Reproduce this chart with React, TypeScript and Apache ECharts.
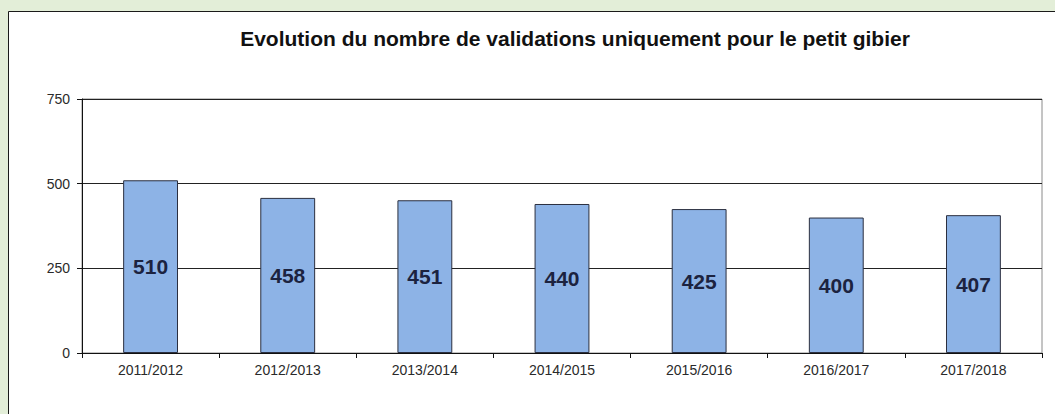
import React, { useEffect, useRef } from "react";
import * as echarts from "echarts";

const categories = ["2011/2012", "2012/2013", "2013/2014", "2014/2015", "2015/2016", "2016/2017", "2017/2018"];
const values = [510, 458, 451, 440, 425, 400, 407];
const yTicks = { min: 0, max: 750, interval: 250 };
const titleText = "Evolution du nombre de validations uniquement pour le petit gibier";

export default function App() {
  const ref = useRef<HTMLDivElement>(null);
  useEffect(() => {
    if (!ref.current) return;
    const chart = echarts.init(ref.current, null, { renderer: "svg" });
    chart.setOption({
      animation: false,
      backgroundColor: "#e3eed8",
      graphic: [
        {
          type: "rect",
          z: -10,
          shape: { x: 8.5, y: 11.5, width: 1100, height: 500 },
          style: { fill: "#ffffff", stroke: "#1a1a1a", lineWidth: 1 },
        },
        {
          type: "text",
          x: 575,
          y: 28,
          style: {
            text: titleText,
            fontFamily: "Liberation Sans, Arial, sans-serif",
            fontWeight: "bold",
            fontSize: 21,
            fill: "#111111",
            align: "center",
            verticalAlign: "top",
          },
        },
      ],
      grid: {
        left: 82,
        right: 13,
        top: 99,
        bottom: 61,
        show: true,
        borderColor: "#8a8a8a",
        borderWidth: 1,
        backgroundColor: "transparent",
      },
      xAxis: {
        type: "category",
        data: categories,
        axisLine: { show: true, lineStyle: { color: "#111", width: 1 } },
        axisTick: { show: true, alignWithLabel: false, length: 5, lineStyle: { color: "#111" } },
        axisLabel: {
          color: "#2a2a2a",
          fontSize: 14,
          fontFamily: "Liberation Sans, Arial, sans-serif",
          margin: 10,
        },
        splitLine: { show: false },
      },
      yAxis: {
        type: "value",
        min: yTicks.min,
        max: yTicks.max,
        interval: yTicks.interval,
        axisLine: { show: true, lineStyle: { color: "#111", width: 1 } },
        axisTick: { show: true, length: 5, lineStyle: { color: "#111" } },
        axisLabel: {
          color: "#2a2a2a",
          fontSize: 14,
          fontFamily: "Liberation Sans, Arial, sans-serif",
          margin: 12,
        },
        splitLine: { show: true, lineStyle: { color: "#222", width: 1 } },
      },
      series: [
        {
          type: "bar",
          data: values,
          barWidth: "40%",
          itemStyle: { color: "#8db3e6", borderColor: "#2b2f3f", borderWidth: 1 },
          label: {
            show: true,
            position: "inside",
            color: "#1c2340",
            fontSize: 21,
            fontWeight: "bold",
            fontFamily: "Liberation Sans, Arial, sans-serif",
          },
        },
      ],
    });
    return () => chart.dispose();
  }, []);
  return (
    <div
      ref={ref}
      style={{ position: "fixed", left: 0, top: 0, width: 1055, height: 414 }}
    />
  );
}
